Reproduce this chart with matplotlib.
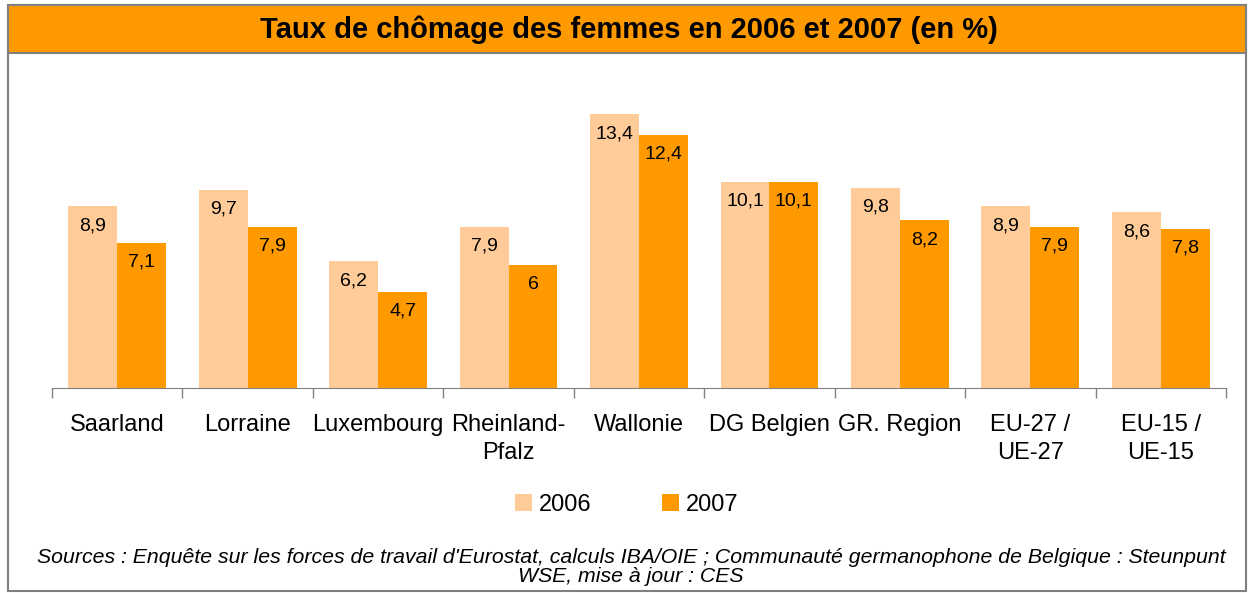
import matplotlib.pyplot as plt
from matplotlib.patches import Rectangle
import numpy as np

plt.rcParams['font.family'] = ['Liberation Sans', 'DejaVu Sans']

categories = ["Saarland", "Lorraine", "Luxembourg", "Rheinland-\nPfalz", "Wallonie",
              "DG Belgien", "GR. Region", "EU-27 /\nUE-27", "EU-15 /\nUE-15"]
values_2006 = [8.9, 9.7, 6.2, 7.9, 13.4, 10.1, 9.8, 8.9, 8.6]
values_2007 = [7.1, 7.9, 4.7, 6.0, 12.4, 10.1, 8.2, 7.9, 7.8]
labels_2006 = ["8,9", "9,7", "6,2", "7,9", "13,4", "10,1", "9,8", "8,9", "8,6"]
labels_2007 = ["7,1", "7,9", "4,7", "6", "12,4", "10,1", "8,2", "7,9", "7,8"]

c2006 = "#FFCC99"
c2007 = "#FF9900"
grey = "#808080"

W, H = 1248, 593
fig = plt.figure(figsize=(W / 100, H / 100), dpi=100)

# outer frame and title bar
fig.patches.append(Rectangle((8 / W, 2 / H), 1238 / W, 586 / H, transform=fig.transFigure,
                             facecolor="none", edgecolor=grey, linewidth=1.5, zorder=-1))
fig.patches.append(Rectangle((8 / W, (H - 53) / H), 1238 / W, 48 / H, transform=fig.transFigure,
                             facecolor=c2007, edgecolor=grey, linewidth=1.5, zorder=-1))
fig.text(629 / W, (H - 30) / H, "Taux de chômage des femmes en 2006 et 2007 (en %)",
         ha="center", va="center", fontsize=21, fontweight="bold")

ax = fig.add_axes([52 / W, (H - 388) / H, 1174 / W, 327 / H])
ax.set_facecolor("none")
x = np.arange(len(categories))
bw = 0.375
b1 = ax.bar(x - bw / 2, values_2006, bw, color=c2006, label="2006")
b2 = ax.bar(x + bw / 2, values_2007, bw, color=c2007, label="2007")

for bars, labs in ((b1, labels_2006), (b2, labels_2007)):
    for rect, lab in zip(bars, labs):
        ax.annotate(lab, (rect.get_x() + rect.get_width() / 2, rect.get_height()),
                    xytext=(0, -14), textcoords="offset points",
                    ha="center", va="center", fontsize=14)

ax.set_xlim(-0.5, len(categories) - 0.5)
ax.set_ylim(0, 16)
ax.set_yticks([])
for s in ("left", "right", "top"):
    ax.spines[s].set_visible(False)
ax.spines["bottom"].set_color(grey)
ax.set_xticks(x)
ax.set_xticklabels(categories, fontsize=17, linespacing=1.33, va="top")
ax.tick_params(axis="x", which="major", length=0, pad=19)
ax.set_xticks(np.arange(len(categories) + 1) - 0.5, minor=True)
ax.tick_params(axis="x", which="minor", length=7, color=grey, width=1)

fig.legend(handles=[b1, b2], labels=["2006", "2007"], loc="center",
           bbox_to_anchor=(627 / W, (H - 505) / H), ncol=2, frameon=False,
           fontsize=17, handlelength=0.7, handleheight=0.7, handletextpad=0.3,
           columnspacing=3.0)

fig.text(631 / W, (H - 567) / H,
         "Sources : Enquête sur les forces de travail d'Eurostat, calculs IBA/OIE ; "
         "Communauté germanophone de Belgique : Steunpunt\nWSE, mise à jour : CES",
         ha="center", va="center", fontsize=15.3, style="italic", linespacing=1.05)

fig.savefig("out.png", dpi=100)
